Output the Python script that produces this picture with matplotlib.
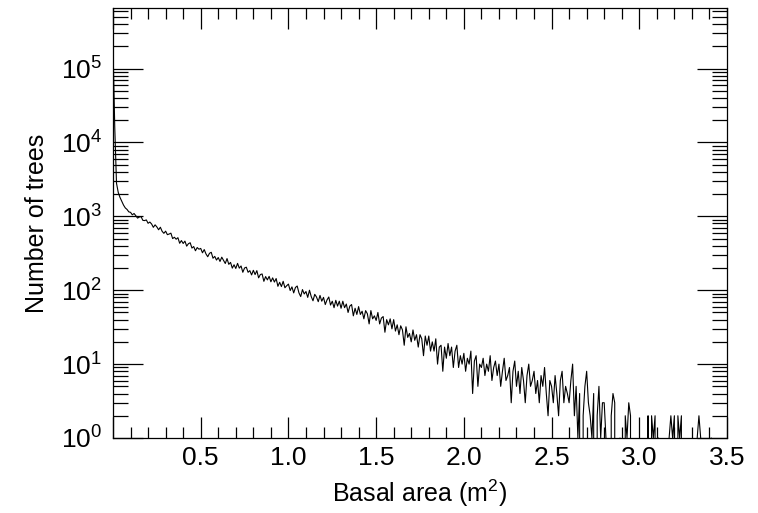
import numpy as np
import matplotlib
matplotlib.use("Agg")
import matplotlib.pyplot as plt
from matplotlib.ticker import FixedLocator, FuncFormatter, LogLocator, MultipleLocator, NullFormatter

plt.rcParams['font.family'] = ['Liberation Sans', 'DejaVu Sans']
plt.rcParams['mathtext.fontset'] = 'custom'
plt.rcParams['mathtext.rm'] = 'Liberation Sans'
plt.rcParams['mathtext.it'] = 'Liberation Sans:italic'

# histogram of tree basal area (bin width 0.01 m^2)
bin_width = 0.01
tree_counts = [
    200000, 16000, 2800, 2100, 1800, 1600, 1420, 1300, 1240, 1150,
    1133, 1049, 1092, 1020, 946, 979, 991, 883, 876, 894,
    805, 837, 788, 710, 767, 719, 658, 712, 627, 589,
    630, 565, 576, 592, 500, 521, 490, 514, 432, 470,
    429, 462, 395, 426, 439, 372, 390, 342, 378, 359,
    368, 321, 355, 310, 284, 316, 326, 271, 287, 256,
    277, 245, 280, 254, 230, 268, 224, 238, 199, 221,
    197, 231, 199, 213, 175, 200, 205, 175, 184, 161,
    186, 163, 184, 147, 163, 166, 132, 153, 138, 154,
    130, 147, 129, 144, 113, 128, 112, 132, 108, 115,
    121, 99, 111, 92, 109, 114, 92, 82, 102, 89,
    96, 80, 100, 82, 72, 88, 81, 70, 85, 71,
    80, 64, 74, 81, 63, 71, 58, 73, 61, 71,
    57, 71, 58, 65, 50, 61, 64, 45, 57, 47,
    60, 47, 52, 41, 53, 48, 35, 53, 41, 45,
    39, 50, 35, 42, 44, 27, 40, 34, 41, 30,
    40, 28, 34, 25, 33, 29, 18, 32, 23, 26,
    20, 29, 21, 25, 17, 25, 22, 13, 24, 18,
    24, 15, 20, 15, 22, 10, 17, 18, 8, 17,
    12, 19, 13, 17, 9, 15, 18, 9, 13, 10,
    14, 8, 12, 10, 15, 4, 11, 13, 5, 10,
    9, 12, 7, 10, 8, 13, 6, 9, 11, 7,
    10, 5, 8, 12, 6, 7, 9, 3, 8, 11,
    5, 8, 4, 9, 6, 3, 7, 10, 5, 6,
    8, 4, 6, 3, 7, 5, 9, 4, 2, 6,
    5, 3, 7, 4, 2, 6, 8, 3, 5, 4,
    3, 6, 10, 2, 5, 1, 4, 0, 2, 5,
    8, 3, 2, 1, 4, 0, 2, 5, 1, 3,
    3, 1, 0, 0, 2, 4, 3, 0, 0, 1,
    0, 0, 2, 1, 3, 2, 0, 0, 0, 0,
    0, 0, 0, 0, 0, 2, 0, 2, 1, 2,
    0, 1, 0, 0, 0, 0, 0, 1, 2, 1,
    2, 0, 2, 1, 2, 0, 0, 0, 0, 0,
    0, 0, 0, 1, 2, 1, 0, 0, 0, 0,
    0, 1, 0,
]
basal_area = np.arange(len(tree_counts)) * bin_width

x_major_ticks = [0.0, 0.5, 1.0, 1.5, 2.0, 2.5, 3.0, 3.5]
x_tick_labels = ['', '0.5', '1.0', '1.5', '2.0', '2.5', '3.0', '3.5']

fig = plt.figure(figsize=(7.58, 5.13), dpi=100)
ax = fig.add_axes([113/758, 1 - 438/513, (727 - 113)/758, (438 - 8)/513])

ax.plot(basal_area, tree_counts, color='black', lw=0.8)
ax.set_yscale('log', nonpositive='clip')
ax.set_xlim(0, 3.5)
ax.set_ylim(1, 6.6e5)

ax.xaxis.set_major_locator(FixedLocator(x_major_ticks))
ax.xaxis.set_major_formatter(FuncFormatter(
    lambda v, p: x_tick_labels[int(round(v * 2))] if 0 <= int(round(v * 2)) < len(x_tick_labels) else ''))
ax.xaxis.set_minor_locator(MultipleLocator(0.1))

ax.yaxis.set_major_locator(LogLocator(base=10, numticks=10))
ax.yaxis.set_minor_locator(LogLocator(base=10, subs=np.arange(2, 10), numticks=20))
ax.yaxis.set_minor_formatter(NullFormatter())
ax.yaxis.set_major_formatter(FuncFormatter(
    lambda v, p: r'$\mathregular{10^{%d}}$' % int(round(np.log10(v)))))

ax.tick_params(axis='both', which='both', direction='in', top=True, right=True,
               width=0.9, color='black', labelsize=19)
ax.tick_params(axis='x', which='major', length=15, pad=6)
ax.tick_params(axis='x', which='minor', length=8)
ax.tick_params(axis='y', which='major', length=21.6, pad=8)
ax.tick_params(axis='y', which='minor', length=10.8)
for s in ax.spines.values():
    s.set_linewidth(0.9)

ax.set_xlabel(r'Basal area (m$^\mathregular{2}$)', fontsize=18, labelpad=5)
ax.set_ylabel('Number of trees', fontsize=18, labelpad=8)

fig.savefig('out.png', dpi=100)
